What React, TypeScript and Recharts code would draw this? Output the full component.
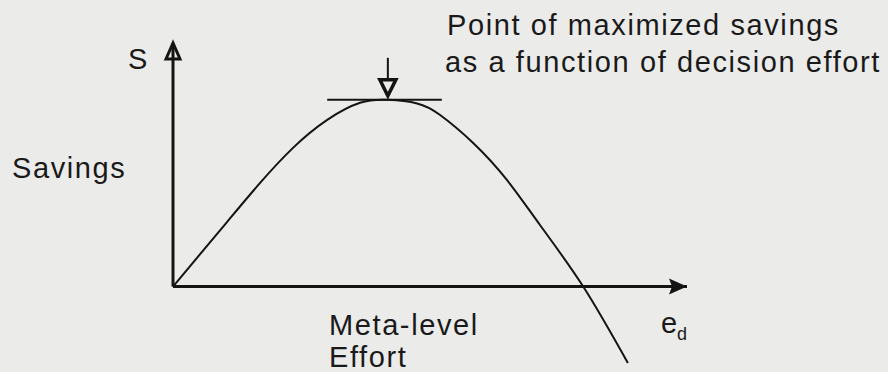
import { LineChart, Line, XAxis, YAxis, ReferenceLine, ReferenceDot } from "recharts";

// curve (effort units 0..100, savings units)
const effort = [0, 10.5, 16.9, 23.3, 30.0, 36.4, 41.8, 47.5, 51.9, 58.4, 65.0, 71.4, 79.8, 88.5];
const savings = [0, 15.1, 24.2, 32.4, 39.0, 43.0, 43.7, 42.85, 40.2, 33.6, 24.9, 14.4, 0, -17.9];

const peakEffort = 41.8;
const peakSavings = 43.7;
const tangentFrom = 30.0;
const tangentTo = 52.3;
const axisEnd = 100;
const axisTop = 57;

const data = effort.map((e, i) => ({ e, s: savings[i] }));

const INK = "#141414";
const FONT = "'Liberation Sans', Arial, Helvetica, sans-serif";

const YArrow = ({ cx, cy }: any) => (
  <path
    d={`M${cx},${cy} L${cx - 7},${cy + 16} L${cx + 7},${cy + 16} Z`}
    fill="none" stroke={INK} strokeWidth={3} strokeLinejoin="miter"
  />
);

const XArrow = ({ cx, cy }: any) => (
  <path d={`M${cx},${cy} L${cx - 18},${cy - 8} L${cx - 15},${cy} L${cx - 18},${cy + 8} Z`} fill={INK} />
);

const DownArrow = ({ cx, cy }: any) => (
  <g>
    <line x1={cx} y1={cy - 42} x2={cx} y2={cy - 20} stroke={INK} strokeWidth={2} />
    <path
      d={`M${cx - 8},${cy - 20} L${cx + 8},${cy - 20} L${cx},${cy - 4} Z`}
      fill="#ebebea" stroke={INK} strokeWidth={3.5}
    />
  </g>
);

export default function App() {
  return (
    <div style={{ position: "absolute", left: 0, top: 0, width: 888, height: 372, background: "#ebebea" }}>
      <LineChart width={888} height={372} data={data} margin={{ top: 43, right: 201, left: 173, bottom: 0 }}>
        <XAxis type="number" dataKey="e" domain={[0, axisEnd]} hide />
        <YAxis type="number" domain={[-20, axisTop]} hide />
        <ReferenceLine segment={[{ x: 0, y: 0 }, { x: axisEnd, y: 0 }]} stroke={INK} strokeWidth={3} />
        <ReferenceLine segment={[{ x: 0, y: 0 }, { x: 0, y: axisTop }]} stroke={INK} strokeWidth={3} />
        <ReferenceLine
          segment={[{ x: tangentFrom, y: peakSavings }, { x: tangentTo, y: peakSavings }]}
          stroke={INK} strokeWidth={2}
        />
        <ReferenceDot x={0} y={axisTop} r={0} shape={<YArrow />} />
        <ReferenceDot x={axisEnd} y={0} r={0} shape={<XArrow />} />
        <ReferenceDot x={peakEffort} y={peakSavings} r={0} shape={<DownArrow />} />
        <Line
          type="natural" dataKey="s" stroke={INK} strokeWidth={2}
          dot={false} isAnimationActive={false}
        />
      </LineChart>
      <svg width={888} height={372} style={{ position: "absolute", left: 0, top: 0, pointerEvents: "none" }}>
        <g fontFamily={FONT} fontSize={29} fill="#1a1a1a" letterSpacing={1.6}>
          <text x={128} y={69}>S</text>
          <text x={12} y={178}>Savings</text>
          <text x={447} y={35}>Point of maximized savings</text>
          <text x={445} y={72}>as a function of decision effort</text>
          <text x={329} y={335}>Meta-level</text>
          <text x={329} y={367}>Effort</text>
          <text x={661} y={333}>e</text>
          <text x={677} y={340} fontSize={18}>d</text>
        </g>
      </svg>
    </div>
  );
}
